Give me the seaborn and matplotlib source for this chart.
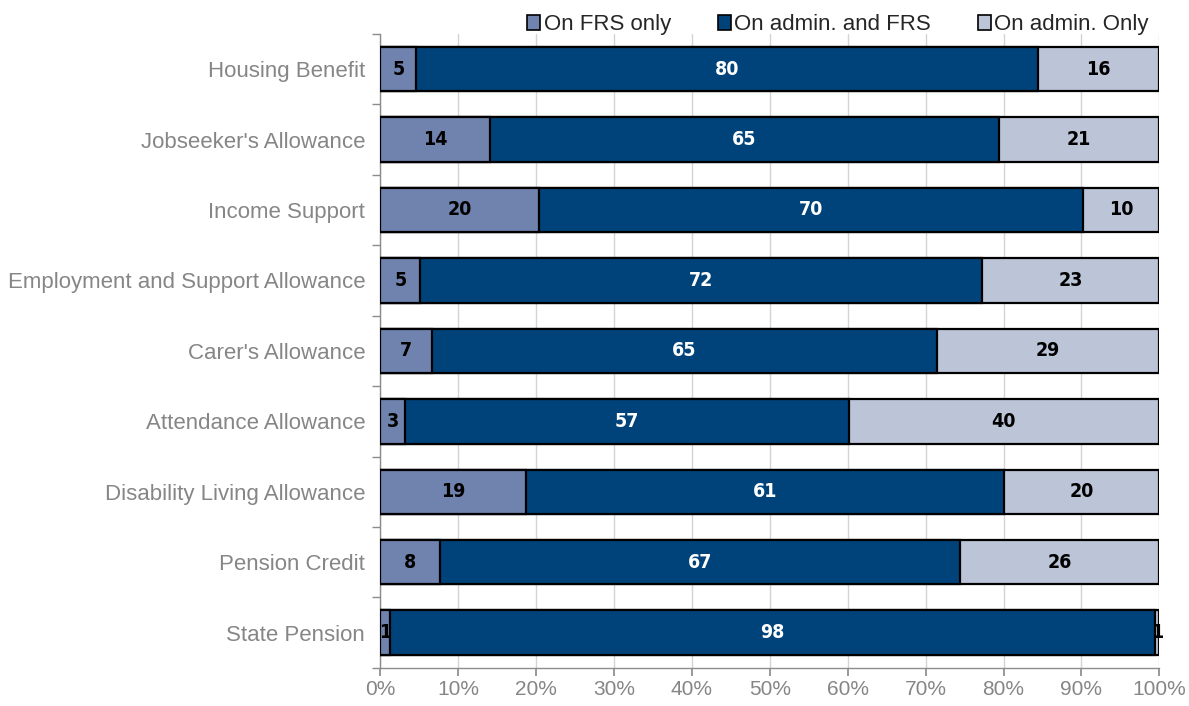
import matplotlib
matplotlib.use("Agg")
import matplotlib.pyplot as plt
import numpy as np
import pandas as pd
import seaborn as sns
from matplotlib.patches import Patch
from matplotlib.ticker import MultipleLocator, PercentFormatter

# --- data (percent of recipients) -------------------------------------------
benefits = [
    "Housing Benefit",
    "Jobseeker's Allowance",
    "Income Support",
    "Employment and Support Allowance",
    "Carer's Allowance",
    "Attendance Allowance",
    "Disability Living Allowance",
    "Pension Credit",
    "State Pension",
]
frs_only   = [4.6, 14.0, 20.4, 5.1, 6.6, 3.1, 18.7, 7.6, 1.2]
admin_frs  = [79.8, 65.4, 69.8, 72.2, 64.8, 57.0, 61.4, 66.8, 98.2]
admin_only = [15.6, 20.6, 9.8, 22.7, 28.6, 39.9, 19.9, 25.6, 0.6]

series_names = ["On FRS only", "On admin. and FRS", "On admin. Only"]
colors       = ["#7083ae", "#00437a", "#bcc5d8"]
label_colors = ["black", "white", "black"]

df = pd.DataFrame({
    "benefit": benefits,
    series_names[0]: frs_only,
    series_names[1]: admin_frs,
    series_names[2]: admin_only,
})
cum = df[series_names].cumsum(axis=1)

sns.set_theme(style="white")
plt.rcParams.update({"font.family": ["Liberation Sans", "DejaVu Sans"]})

fig, ax = plt.subplots(figsize=(11.89, 7.06), dpi=100)
fig.subplots_adjust(left=0.320, right=0.975, top=0.952, bottom=0.054)

# draw cumulative layers back to front so they look stacked
for name, color in reversed(list(zip(series_names, colors))):
    sns.barplot(x=cum[name], y=df["benefit"], orient="h", ax=ax,
                color=color, width=0.63, edgecolor="black", linewidth=1.6,
                saturation=1, zorder=3)

# value labels in the middle of each segment
for name, lc in zip(series_names, label_colors):
    centres = cum[name] - df[name] / 2
    for i, (c, v) in enumerate(zip(centres, df[name])):
        ax.text(c, i, f"{v:.0f}", ha="center", va="center", color=lc,
                fontsize=14, fontweight="bold", family="DejaVu Sans",
                fontstretch="condensed", zorder=5)

ax.set_xlim(0, 100)
ax.set_ylim(len(benefits) - 0.5, -0.5)
ax.xaxis.set_major_locator(MultipleLocator(10))
ax.xaxis.set_major_formatter(PercentFormatter(decimals=0))
ax.grid(axis="x", color="#d4d4d4", linewidth=1, zorder=0)
ax.set_axisbelow(True)
ax.set_xlabel("")
ax.set_ylabel("")

for side in ["top", "right"]:
    ax.spines[side].set_visible(False)
for side in ["left", "bottom"]:
    ax.spines[side].set_color("#8c8c8c")
    ax.spines[side].set_linewidth(1)

# category ticks sit between the bars
ax.set_yticks(np.arange(len(benefits)))
ax.set_yticklabels(benefits)
ax.set_yticks(np.arange(len(benefits) + 1) - 0.5, minor=True)
ax.tick_params(axis="y", which="major", length=0, pad=11,
               labelsize=16, labelcolor="#868686")
ax.tick_params(axis="y", which="minor", length=6, color="#8c8c8c",
               direction="out", left=True)
ax.tick_params(axis="x", which="major", length=6, color="#8c8c8c",
               direction="out", bottom=True, labelsize=15,
               labelcolor="#868686", pad=3)

handles = [Patch(facecolor=c, edgecolor="black", linewidth=1.2)
           for c in colors]
fig.legend(handles, series_names, loc="upper right",
           bbox_to_anchor=(0.983, 1.008), ncol=3, frameon=False,
           fontsize=16, handlelength=0.6, handleheight=0.6,
           handletextpad=0.15, columnspacing=2.1)

fig.savefig("out.png", dpi=100, facecolor="white")
plt.close(fig)
